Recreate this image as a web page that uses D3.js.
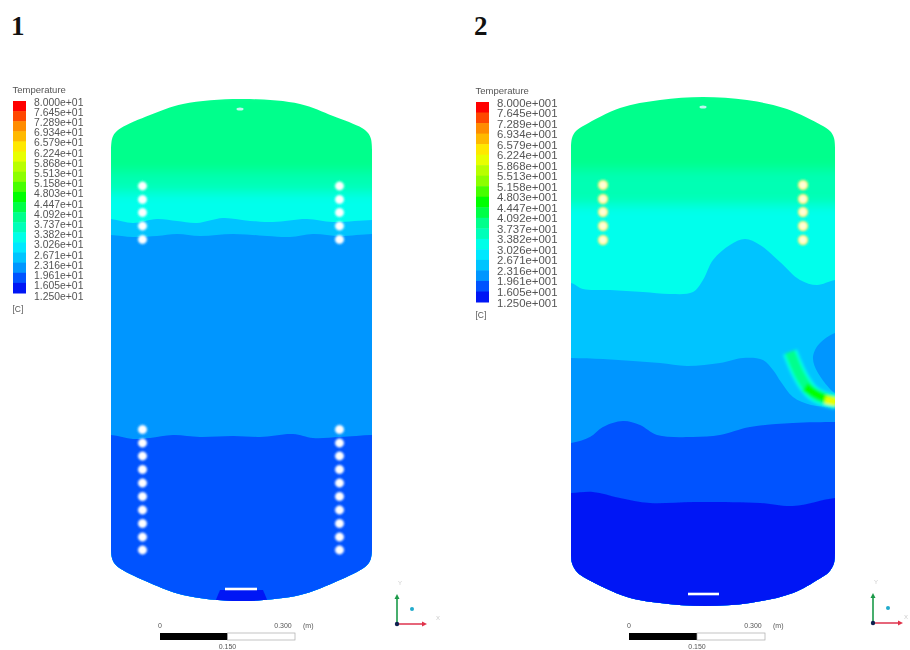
<!DOCTYPE html>
<html><head><meta charset="utf-8">
<script src="https://cdn.jsdelivr.net/npm/d3@7"></script>
<style>html,body{margin:0;background:#fff}svg{display:block}text{font-family:"Liberation Sans",sans-serif}</style>
</head><body><svg id="c" width="910" height="650"></svg>
<script>
// Temperature legend (°C mantissas, top to bottom)
const tickMantissas = [8.000,7.645,7.289,6.934,6.579,6.224,5.868,5.513,5.158,4.803,4.447,4.092,3.737,3.382,3.026,2.671,2.316,1.961,1.605,1.250];
const bandColors = ["#ff0000","#ff4600","#ff8c00","#ffb900","#ffe800","#e8ff00","#b9ff00","#8cff00","#46ff00","#00ff00","#00ff46","#00ff8c","#00ffb9","#00ffe8","#00e8ff","#00c4ff","#0096ff","#0052ff","#0018f5"];
const panelNames = ["1","2"];
const legendExponents = ["e+01","e+001"];

// Tank outlines (tank units from the upper-left corner)
const domeTop1 = [[0,50],[1,40],[4,34],[10,29],[39,16],[72,5],[129,0],[189,5],[222,17],[251,29],[257,34],[260,40],[261,50]];
const domeBottom1 = [[261,450],[260,459],[257,465],[251,470],[222,484],[189,496],[129,502],[72,496],[39,484],[10,470],[4,465],[1,459],[0,450]];
const domeTop2 = [[0,50],[1,41],[5,34],[14,28],[49,11],[89,3],[132,0],[176,3],[216,12],[250,28],[259,34],[263,41],[264,50]];
const domeBottom2 = [[264,456],[263,466],[258,475],[248,482],[222,496],[179,506],[134,509],[89,506],[56,500],[16,482],[6,475],[1,466],[0,456]];

// Temperature of each contour band, top to bottom (°C)
const bandTemps1 = [39,35,25,21,17];
const bandTemps2 = [39,35,25,21,17,14];
const softLevels1 = [73,94];
const softLevels2 = [73,108];

// Contour lines between bands, panel 1
const contours1 = [
 [[0,120],[22,124],[46,120],[66,122],[86,124],[112,119],[139,122],[162,123],[196,120],[222,123],[261,121]],
 [[0,136],[22,138],[46,137],[66,135],[89,137],[122,135],[156,137],[179,138],[202,135],[229,137],[261,135]],
 [[0,336],[22,340],[39,339],[62,336],[89,338],[122,337],[149,338],[182,335],[202,339],[229,338],[261,336]]
];
const patch1 = [[104,503],[109,491],[152,491],[157,503]];
const patchTemp1 = 14;

// Contour lines between bands, panel 2
const contours2 = [
 [[0,186],[12,192],[39,193],[72,195],[99,197],[122,195],[132,183],[142,163],[159,148],[174,142],[189,148],[209,165],[229,183],[246,188],[264,183]],
 [[0,261],[32,262],[62,264],[89,266],[116,269],[149,266],[172,261],[192,263],[202,273],[210,285],[222,300],[240,308],[264,310]],
 [[0,346],[19,340],[32,330],[52,324],[69,328],[86,338],[122,340],[149,338],[179,330],[222,326],[264,325]],
 [[0,396],[22,395],[49,401],[79,406],[122,405],[189,406],[222,409],[264,401]]
];
const blob2 = [[268,236],[249,246],[242,260],[247,276],[268,298]];
const blobTemp2 = 21;

// Hot plume, panel 2
const plumePath = [[219,255],[227,276],[239,295],[249,301],[266,305]];
const plumeCore = [[234,290],[247,299],[266,305]];
const plumeTip = [[254,303],[266,305]];
const plumeTemps = [25,32,38,46,62];

// Tube holes (tank units)
const holeColsX1 = [31.5,228.5];
const holeRowsY1 = [87,100.5,113.5,127,140.5,330.5,344,357,370.5,384,397.5,411,424.5,438,451];
const holeColsX2 = [32,232];
const holeRowsY2 = [88,102,115,129,143];
const bottomSlot1 = [[114,490],[146,490]];
const bottomSlot2 = [[117,497],[148,497]];
const topPort1 = [129,10];
const topPort2 = [132,10];

// Scale bar
const scaleTicks = [0,0.15,0.3];

const panels = [
 {name:panelNames[0],top:domeTop1,bottom:domeBottom1,temps:bandTemps1,soft:softLevels1,contours:contours1,w:261,h:502,
  x:[111,372],y:[99,601],holesX:holeColsX1,holesY:holeRowsY1,slot:bottomSlot1,port:topPort1,
  labelX:11,legX:[13,26],legY:[101,293],tickY:[102,296],tickX:34,fs:10.4,exp:legendExponents[0],cY:309,
  bar:[160,295],barY:636,triad:[397,624],holeFill:"#fff",holeRing:"#fff",xLab:39},
 {name:panelNames[1],top:domeTop2,bottom:domeBottom2,temps:bandTemps2,soft:softLevels2,contours:contours2,w:264,h:509,
  x:[571,835],y:[97,606],holesX:holeColsX2,holesY:holeRowsY2,slot:bottomSlot2,port:topPort2,
  labelX:474,legX:[476,489],legY:[102,302],tickY:[103,303],tickX:497,fs:11.4,exp:legendExponents[1],cY:315,
  bar:[629,765],barY:636,triad:[873,623],holeFill:"#ffffd8",holeRing:"#fff27a",xLab:31}
];

const svg = d3.select("#c");
const defs = svg.append("defs");
defs.append("filter").attr("id","soft").attr("x","-5%").attr("y","-5%").attr("width","110%").attr("height","110%")
  .append("feGaussianBlur").attr("stdDeviation",0.7);
defs.append("filter").attr("id","softV").attr("x","-5%").attr("y","-20%").attr("width","110%").attr("height","140%")
  .append("feGaussianBlur").attr("stdDeviation","0 6");
defs.append("filter").attr("id","softP").attr("x","-30%").attr("y","-30%").attr("width","160%").attr("height","160%")
  .append("feGaussianBlur").attr("stdDeviation",1.8);
defs.append("filter").attr("id","softH").attr("x","-10%").attr("y","-10%").attr("width","120%").attr("height","120%")
  .append("feGaussianBlur").attr("stdDeviation",1.0);
defs.append("filter").attr("id","txt").attr("x","-5%").attr("y","-5%").attr("width","110%").attr("height","110%")
  .append("feGaussianBlur").attr("stdDeviation",0.55);

const tempColor = d3.scaleThreshold()
  .domain(tickMantissas.slice(1,-1).map(d=>d*10).reverse())
  .range(bandColors.slice().reverse());

panels.forEach((p,i)=>{
  const g = svg.append("g");
  const X = d3.scaleLinear().domain([0,p.w]).range(p.x);
  const Y = d3.scaleLinear().domain([0,p.h]).range(p.y);
  const closed = d3.line().x(d=>X(d[0])).y(d=>Y(d[1])).curve(d3.curveLinearClosed);
  const smoothClosed = d3.line().x(d=>X(d[0])).y(d=>Y(d[1])).curve(d3.curveCatmullRomClosed.alpha(0.5));
  const arc = d3.line().x(d=>X(d[0])).y(d=>Y(d[1])).curve(d3.curveCatmullRom.alpha(0.5));
  const smooth = d3.line().x(d=>X(d[0])).y(d=>Y(d[1])).curve(d3.curveBasis);

  defs.append("clipPath").attr("id","tank"+i).append("path")
    .attr("d",arc(p.top)+"L"+arc(p.bottom).slice(1)+"Z");

  g.append("text").text(p.name).attr("x",p.labelX).attr("y",35)
    .attr("font-size",27).attr("font-weight","bold").style("font-family","'Liberation Serif',serif").attr("fill","#111");

  // tank
  const wrap = g.append("g").attr("filter","url(#soft)");
  const t = wrap.append("g").attr("clip-path",`url(#tank${i})`);
  const softG = t.append("g").attr("filter","url(#softV)");
  softG.append("rect").attr("x",X(-10)).attr("width",X(p.w+10)-X(-10)).attr("y",Y(-10)).attr("height",Y(p.h+10)-Y(-10)).attr("fill",tempColor(p.temps[0]));
  p.soft.forEach((lv,k)=>{
    softG.append("rect").attr("x",X(-10)).attr("width",X(p.w+10)-X(-10)).attr("y",Y(lv)).attr("height",Y(p.h+10)-Y(lv)).attr("fill",k==0?"#00ffb4":"#00ffec");
  });
  p.contours.forEach((c,k)=>{
    const poly = [[-20,p.h+20],[-20,c[0][1]],...c,[p.w+20,c[c.length-1][1]],[p.w+20,p.h+20]];
    t.append("path").attr("d",arc(poly)+"Z").attr("fill",tempColor(p.temps[k+2]));
  });
  if(i===0){
    t.append("path").attr("d",closed(patch1)).attr("fill",tempColor(patchTemp1));
  } else {
    t.append("path").attr("d",smoothClosed(blob2)).attr("fill",tempColor(blobTemp2));
    const pl = t.append("g").attr("filter","url(#softP)").attr("fill","none").attr("stroke-linecap","butt");
    pl.append("path").attr("d",smooth(plumePath)).attr("stroke",tempColor(plumeTemps[1])).attr("stroke-width",15);
    pl.append("path").attr("d",smooth(plumePath)).attr("stroke",tempColor(plumeTemps[2])).attr("stroke-width",10);
    pl.append("path").attr("d",smooth(plumeCore)).attr("stroke",tempColor(plumeTemps[3])).attr("stroke-width",9);
    pl.append("path").attr("d",smooth(plumeTip)).attr("stroke",tempColor(plumeTemps[4])).attr("stroke-width",8);
  }
  // holes
  const hg = wrap.append("g").attr("filter","url(#softH)");
  p.holesX.forEach(hx=>p.holesY.forEach(hy=>{
    hg.append("circle").attr("cx",X(hx)).attr("cy",Y(hy)).attr("r",4.3)
      .attr("fill",p.holeFill).attr("stroke",p.holeRing).attr("stroke-width",i?1.8:0.4);
  }));
  wrap.append("path").attr("d",d3.line().x(d=>X(d[0])).y(d=>Y(d[1]))(p.slot)).attr("stroke","#fff").attr("stroke-width",2.6);
  wrap.append("ellipse").attr("cx",X(p.port[0])).attr("cy",Y(p.port[1])).attr("rx",3.5).attr("ry",1.5).attr("fill","#bff7ef");

  // legend
  const lb = d3.scaleBand().domain(d3.range(bandColors.length)).range(p.legY);
  const lg = g.append("g").attr("filter","url(#soft)");
  bandColors.forEach((c,k)=>lg.append("rect").attr("x",p.legX[0]).attr("width",p.legX[1]-p.legX[0])
     .attr("y",lb(k)).attr("height",lb.bandwidth()+0.5).attr("fill",c));
  const lt = d3.scalePoint().domain(tickMantissas).range(p.tickY);
  const tx = g.append("g").attr("filter","url(#txt)").attr("fill","#555");
  tx.append("text").text("Temperature").attr("x",p.legX[0]-0.5).attr("y",p.legY[0]-8).attr("font-size",9.5);
  tickMantissas.forEach(m=>tx.append("text").text(m.toFixed(3)+p.exp).attr("x",p.tickX).attr("y",lt(m)+3.5).attr("font-size",p.fs));
  tx.append("text").text("[C]").attr("x",p.legX[0]-0.5).attr("y",p.cY+3).attr("font-size",8.5);

  // scale bar
  const sb = d3.scaleLinear().domain([0,0.3]).range(p.bar);
  tx.append("rect").attr("x",sb(0)).attr("y",p.barY-3).attr("width",sb(0.15)-sb(0)).attr("height",7).attr("fill","#000");
  tx.append("rect").attr("x",sb(0.15)).attr("y",p.barY-3).attr("width",sb(0.3)-sb(0.15)).attr("height",7).attr("fill","none").attr("stroke","#aaa").attr("stroke-width",0.7);
  tx.append("text").text("0").attr("x",sb(scaleTicks[0])).attr("y",p.barY-8).attr("font-size",7).attr("text-anchor","middle");
  tx.append("text").text("0.300").attr("x",sb(scaleTicks[2])-12).attr("y",p.barY-8).attr("font-size",7).attr("text-anchor","middle");
  tx.append("text").text("(m)").attr("x",sb(scaleTicks[2])+8).attr("y",p.barY-8).attr("font-size",7);
  tx.append("text").text(scaleTicks[1].toFixed(3)).attr("x",sb(scaleTicks[1])).attr("y",p.barY+13).attr("font-size",7).attr("text-anchor","middle");

  // axis triad
  const [ox,oy] = p.triad;
  const tr = g.append("g").attr("filter","url(#txt)");
  tr.append("line").attr("x1",ox).attr("y1",oy).attr("x2",ox).attr("y2",oy-27).attr("stroke","#1a9a4a").attr("stroke-width",1.6);
  tr.append("path").attr("d",`M${ox-2.5},${oy-25}L${ox},${oy-30}L${ox+2.5},${oy-25}Z`).attr("fill","#1a9a4a");
  tr.append("line").attr("x1",ox).attr("y1",oy).attr("x2",ox+26).attr("y2",oy).attr("stroke","#e0405a").attr("stroke-width",1.6);
  tr.append("path").attr("d",`M${ox+25},${oy-2.5}L${ox+30},${oy}L${ox+25},${oy+2.5}Z`).attr("fill","#e0304a");
  tr.append("circle").attr("cx",ox).attr("cy",oy).attr("r",2.2).attr("fill","#102050");
  tr.append("circle").attr("cx",ox+15).attr("cy",oy-15).attr("r",2).attr("fill","#22aacc");
  tr.append("text").text("Y").attr("x",ox+1).attr("y",oy-39).attr("font-size",6).attr("fill","#ccc");
  tr.append("text").text("X").attr("x",ox+p.xLab).attr("y",oy-4).attr("font-size",6).attr("fill","#ccc");
});
</script></body></html>
